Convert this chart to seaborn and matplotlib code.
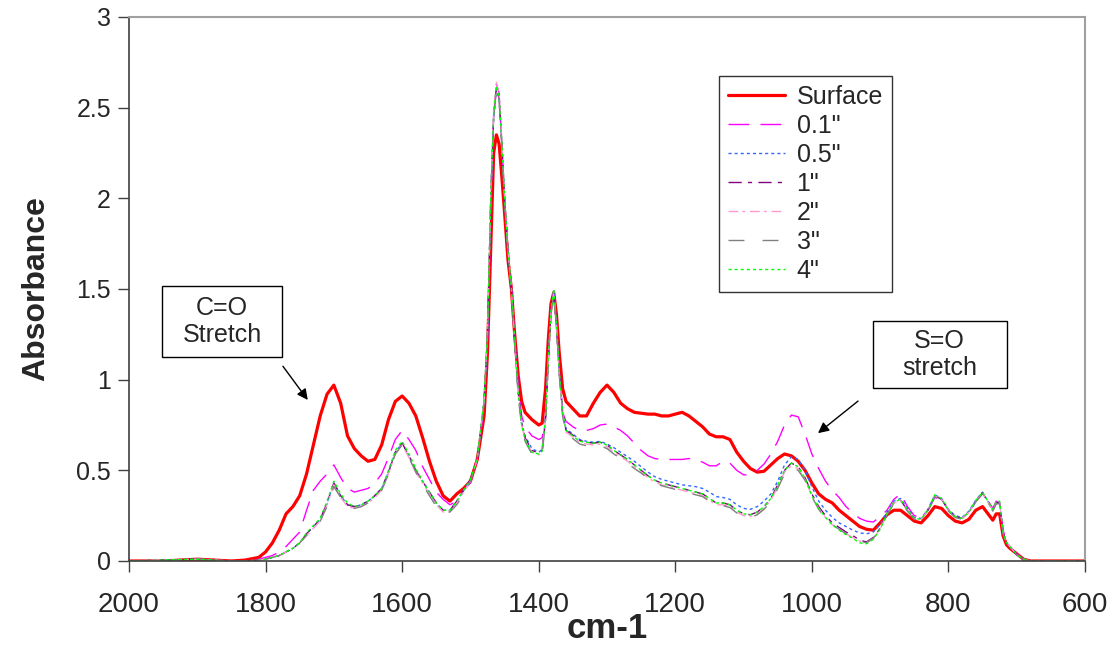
import matplotlib
matplotlib.use("Agg")
import matplotlib.pyplot as plt
import matplotlib.patches as mpatches
from matplotlib import font_manager
import seaborn as sns
import pandas as pd

# ---------------- data ----------------
wavenumber = [
    2000, 1950, 1900, 1850, 1830, 1810,
    1800, 1790, 1780, 1770, 1760, 1750, 1740, 1730, 1720, 1710,
    1700, 1690, 1680, 1670, 1660, 1650, 1640, 1630, 1620, 1610,
    1600, 1590, 1580, 1570, 1560, 1550, 1540, 1530, 1520, 1510,
    1500, 1490, 1480,
    1475, 1470, 1466, 1462, 1458, 1454, 1450, 1445, 1440, 1435, 1430, 1425, 1420,
    1410, 1400, 1395, 1390, 1386, 1382, 1378, 1374, 1370, 1365, 1360,
    1350, 1340, 1330, 1320, 1310, 1300, 1290, 1280, 1270, 1260,
    1250, 1240, 1230, 1220, 1210, 1200, 1190, 1180, 1170, 1160,
    1150, 1140, 1130, 1120, 1110, 1100, 1090, 1080, 1070, 1060,
    1050, 1040, 1030, 1020, 1010, 1000, 990, 980, 970, 960,
    950, 940, 930, 920, 910, 900, 890, 880, 870, 860,
    850, 840, 830, 820, 810, 800, 790, 780, 770, 760,
    750, 740,
    735, 730, 725, 720, 715, 710, 700, 690, 680, 650, 600,
]

surface = [
    0.0, 0.0, 0.01, 0.0, 0.005, 0.02,
    0.05, 0.10, 0.17, 0.26, 0.30, 0.36, 0.48, 0.64, 0.80, 0.92,
    0.97, 0.87, 0.69, 0.62, 0.58, 0.55, 0.56, 0.64, 0.78, 0.88,
    0.91, 0.87, 0.80, 0.68, 0.55, 0.44, 0.36, 0.33, 0.37, 0.40,
    0.44, 0.56, 0.80,
    1.15, 1.77, 2.25, 2.35, 2.30, 2.12, 1.92, 1.66, 1.50, 1.24, 1.02, 0.88, 0.82,
    0.78, 0.75, 0.76, 0.95, 1.22, 1.42, 1.48, 1.36, 1.15, 0.95, 0.88,
    0.84, 0.80, 0.80, 0.87, 0.93, 0.97, 0.93, 0.87, 0.84, 0.82,
    0.815, 0.81, 0.81, 0.80, 0.80, 0.81, 0.82, 0.80, 0.77, 0.74,
    0.70, 0.685, 0.685, 0.67, 0.60, 0.55, 0.51, 0.49, 0.495, 0.53,
    0.565, 0.59, 0.58, 0.55, 0.50, 0.43, 0.37, 0.34, 0.32, 0.28,
    0.25, 0.22, 0.19, 0.175, 0.17, 0.21, 0.255, 0.28, 0.28, 0.25,
    0.22, 0.21, 0.25, 0.30, 0.29, 0.25, 0.22, 0.21, 0.23, 0.28,
    0.30, 0.25,
    0.225, 0.26, 0.26, 0.14, 0.09, 0.07, 0.04, 0.01, 0.0, 0.0, 0.0,
]

depth_01 = [
    0.0, 0.0, 0.01, 0.0, 0.0, 0.01,
    0.02, 0.03, 0.05, 0.08, 0.12, 0.16, 0.28, 0.39, 0.44, 0.48,
    0.53, 0.46, 0.40, 0.38, 0.39, 0.40, 0.43, 0.48, 0.57, 0.67,
    0.72, 0.67, 0.61, 0.52, 0.45, 0.38, 0.34, 0.31, 0.33, 0.39,
    0.43, 0.56, 0.85,
    1.20, 1.95, 2.45, 2.63, 2.58, 2.30, 2.00, 1.72, 1.52, 1.22, 0.97, 0.80, 0.74,
    0.69, 0.67, 0.68, 0.80, 1.10, 1.38, 1.49, 1.33, 1.05, 0.82, 0.77,
    0.74, 0.72, 0.72, 0.73, 0.75, 0.755, 0.74, 0.72, 0.69, 0.65,
    0.61, 0.58, 0.565, 0.56, 0.56, 0.56, 0.56, 0.565, 0.56, 0.545,
    0.525, 0.525, 0.55, 0.54, 0.50, 0.475, 0.475, 0.50, 0.535, 0.59,
    0.66, 0.75, 0.805, 0.795, 0.70, 0.59, 0.51, 0.44, 0.39, 0.35,
    0.30, 0.265, 0.235, 0.22, 0.215, 0.245, 0.28, 0.34, 0.37, 0.30,
    0.25, 0.24, 0.28, 0.35, 0.34, 0.28, 0.245, 0.235, 0.27, 0.33,
    0.37, 0.32,
    0.29, 0.33, 0.32, 0.17, 0.10, 0.08, 0.04, 0.01, 0.0, 0.0, 0.0,
]

depth_05 = [
    0.0, 0.005, 0.01, 0.0, 0.0, 0.005,
    0.01, 0.02, 0.03, 0.05, 0.07, 0.10, 0.15, 0.19, 0.23, 0.32,
    0.43, 0.36, 0.31, 0.30, 0.31, 0.33, 0.36, 0.40, 0.49, 0.60,
    0.65, 0.58, 0.50, 0.44, 0.38, 0.32, 0.28, 0.28, 0.33, 0.39,
    0.45, 0.56, 0.88,
    1.25, 2.03, 2.45, 2.60, 2.55, 2.30, 2.00, 1.70, 1.50, 1.20, 0.93, 0.76, 0.69,
    0.62, 0.60, 0.615, 0.78, 1.11, 1.37, 1.49, 1.30, 1.05, 0.82, 0.73,
    0.70, 0.67, 0.66, 0.655, 0.66, 0.645, 0.625, 0.60, 0.575, 0.55,
    0.52, 0.49, 0.465, 0.45, 0.44, 0.43, 0.42, 0.415, 0.41, 0.40,
    0.38, 0.355, 0.35, 0.34, 0.31, 0.29, 0.285, 0.30, 0.33, 0.37,
    0.44, 0.53, 0.575, 0.56, 0.50, 0.41, 0.33, 0.28, 0.24, 0.21,
    0.19, 0.17, 0.155, 0.15, 0.16, 0.20, 0.27, 0.33, 0.345, 0.29,
    0.24, 0.235, 0.285, 0.365, 0.345, 0.285, 0.25, 0.24, 0.275, 0.335,
    0.38, 0.315,
    0.28, 0.32, 0.32, 0.16, 0.10, 0.08, 0.035, 0.01, 0.0, 0.0, 0.0,
]

depth_1 = [
    0.0, 0.005, 0.01, 0.0, 0.0, 0.005,
    0.01, 0.02, 0.03, 0.05, 0.07, 0.10, 0.15, 0.19, 0.23, 0.32,
    0.43, 0.36, 0.31, 0.30, 0.31, 0.33, 0.36, 0.40, 0.49, 0.60,
    0.65, 0.58, 0.50, 0.44, 0.38, 0.32, 0.28, 0.28, 0.33, 0.39,
    0.45, 0.56, 0.88,
    1.25, 2.03, 2.45, 2.61, 2.55, 2.30, 2.00, 1.70, 1.50, 1.20, 0.93, 0.76, 0.68,
    0.61, 0.595, 0.61, 0.78, 1.11, 1.37, 1.49, 1.30, 1.05, 0.82, 0.72,
    0.695, 0.665, 0.655, 0.65, 0.655, 0.64, 0.61, 0.585, 0.56, 0.53,
    0.50, 0.47, 0.445, 0.43, 0.42, 0.41, 0.40, 0.39, 0.38, 0.37,
    0.345, 0.32, 0.32, 0.31, 0.28, 0.26, 0.255, 0.27, 0.30, 0.345,
    0.42, 0.50, 0.54, 0.52, 0.46, 0.37, 0.30, 0.25, 0.21, 0.185,
    0.16, 0.14, 0.115, 0.105, 0.13, 0.18, 0.26, 0.32, 0.335, 0.28,
    0.235, 0.23, 0.28, 0.36, 0.34, 0.28, 0.245, 0.235, 0.27, 0.33,
    0.375, 0.31,
    0.28, 0.32, 0.32, 0.155, 0.10, 0.08, 0.035, 0.01, 0.0, 0.0, 0.0,
]

depth_2 = [
    0.0, 0.005, 0.01, 0.0, 0.0, 0.005,
    0.01, 0.02, 0.03, 0.05, 0.07, 0.10, 0.14, 0.18, 0.22, 0.31,
    0.42, 0.35, 0.30, 0.29, 0.30, 0.32, 0.35, 0.39, 0.48, 0.59,
    0.64, 0.57, 0.49, 0.43, 0.37, 0.31, 0.27, 0.275, 0.32, 0.38,
    0.44, 0.56, 0.88,
    1.26, 2.05, 2.48, 2.64, 2.57, 2.32, 2.01, 1.71, 1.50, 1.20, 0.92, 0.75, 0.67,
    0.60, 0.585, 0.60, 0.78, 1.11, 1.37, 1.49, 1.30, 1.04, 0.81, 0.71,
    0.685, 0.655, 0.645, 0.64, 0.645, 0.63, 0.60, 0.575, 0.55, 0.52,
    0.49, 0.46, 0.435, 0.42, 0.41, 0.40, 0.39, 0.38, 0.37, 0.36,
    0.335, 0.31, 0.31, 0.30, 0.27, 0.25, 0.245, 0.26, 0.29, 0.335,
    0.41, 0.49, 0.525, 0.51, 0.45, 0.36, 0.29, 0.24, 0.20, 0.175,
    0.15, 0.13, 0.11, 0.10, 0.125, 0.175, 0.26, 0.32, 0.335, 0.28,
    0.235, 0.23, 0.28, 0.36, 0.34, 0.28, 0.245, 0.235, 0.27, 0.33,
    0.375, 0.31,
    0.28, 0.32, 0.32, 0.155, 0.10, 0.08, 0.035, 0.01, 0.0, 0.0, 0.0,
]

depth_3 = [
    0.0, 0.005, 0.01, 0.0, 0.0, 0.005,
    0.01, 0.02, 0.03, 0.05, 0.07, 0.10, 0.14, 0.18, 0.22, 0.30,
    0.41, 0.35, 0.30, 0.29, 0.30, 0.32, 0.35, 0.39, 0.48, 0.59,
    0.64, 0.57, 0.49, 0.42, 0.36, 0.30, 0.265, 0.27, 0.31, 0.37,
    0.44, 0.55, 0.87,
    1.24, 2.02, 2.44, 2.60, 2.54, 2.29, 1.99, 1.69, 1.49, 1.19, 0.91, 0.74, 0.66,
    0.59, 0.575, 0.59, 0.77, 1.10, 1.36, 1.48, 1.29, 1.03, 0.80, 0.70,
    0.675, 0.645, 0.635, 0.63, 0.635, 0.62, 0.59, 0.565, 0.54, 0.51,
    0.485, 0.455, 0.43, 0.415, 0.405, 0.395, 0.385, 0.375, 0.365, 0.355,
    0.33, 0.305, 0.305, 0.295, 0.265, 0.245, 0.24, 0.255, 0.285, 0.33,
    0.40, 0.48, 0.515, 0.50, 0.445, 0.355, 0.285, 0.235, 0.20, 0.175,
    0.15, 0.13, 0.11, 0.10, 0.125, 0.175, 0.255, 0.315, 0.33, 0.275,
    0.23, 0.225, 0.275, 0.355, 0.335, 0.275, 0.24, 0.23, 0.265, 0.325,
    0.37, 0.305,
    0.275, 0.315, 0.315, 0.15, 0.10, 0.08, 0.035, 0.01, 0.0, 0.0, 0.0,
]

depth_4 = [
    0.0, 0.005, 0.01, 0.0, 0.0, 0.005,
    0.01, 0.02, 0.03, 0.05, 0.07, 0.10, 0.155, 0.195, 0.235, 0.33,
    0.44, 0.37, 0.32, 0.30, 0.31, 0.33, 0.36, 0.40, 0.50, 0.61,
    0.66, 0.59, 0.51, 0.44, 0.38, 0.32, 0.28, 0.28, 0.33, 0.39,
    0.45, 0.57, 0.89,
    1.26, 2.04, 2.46, 2.62, 2.56, 2.31, 2.01, 1.71, 1.51, 1.21, 0.93, 0.75, 0.67,
    0.60, 0.59, 0.605, 0.79, 1.12, 1.38, 1.50, 1.31, 1.05, 0.82, 0.72,
    0.69, 0.66, 0.655, 0.65, 0.655, 0.64, 0.61, 0.585, 0.56, 0.53,
    0.50, 0.47, 0.445, 0.43, 0.42, 0.41, 0.40, 0.39, 0.38, 0.37,
    0.345, 0.32, 0.32, 0.31, 0.28, 0.26, 0.255, 0.27, 0.30, 0.345,
    0.42, 0.50, 0.54, 0.52, 0.455, 0.36, 0.29, 0.24, 0.20, 0.17,
    0.145, 0.125, 0.10, 0.095, 0.12, 0.175, 0.26, 0.325, 0.34, 0.285,
    0.235, 0.23, 0.28, 0.365, 0.345, 0.28, 0.245, 0.235, 0.27, 0.335,
    0.38, 0.315,
    0.285, 0.33, 0.33, 0.16, 0.10, 0.08, 0.035, 0.01, 0.0, 0.0, 0.0,
]

series_names = ['Surface', '0.1"', '0.5"', '1"', '2"', '3"', '4"']
series_values = [surface, depth_01, depth_05, depth_1, depth_2, depth_3, depth_4]

x_ticks = [2000, 1800, 1600, 1400, 1200, 1000, 800, 600]
x_tick_labels = ['2000', '1800', '1600', '1400', '1200', '1000', '800', '600']
y_ticks = [0, 0.5, 1, 1.5, 2, 2.5, 3]
y_tick_labels = ['0', '0.5', '1', '1.5', '2', '2.5', '3']

# ---------------- styles ----------------
colors = ['#FF0000', '#FF00FF', '#3366FF', '#800080', '#FF99CC', '#808080', '#00FF00']
widths = [2.3, 1.0, 1.0, 1.0, 1.0, 1.0, 1.0]
styles = ['-', (0, (15, 8)), (0, (2.2, 2.2)), (0, (9.5, 4.5, 3, 4.5)),
          (0, (7, 3, 2, 3.5)), (0, (11.5, 13)), (0, (2.2, 2.2))]

sns.set_style('ticks')
names = {f.name for f in font_manager.fontManager.ttflist}
base_font = 'Liberation Sans' if 'Liberation Sans' in names else 'DejaVu Sans'
narrow_font = 'Liberation Sans Narrow' if 'Liberation Sans Narrow' in names else base_font
plt.rcParams['font.family'] = [base_font, 'DejaVu Sans']

frames = []
for name, vals in zip(series_names, series_values):
    frames.append(pd.DataFrame({'wn': wavenumber, 'A': vals, 'series': name}))
df = pd.concat(frames, ignore_index=True)

fig = plt.figure(figsize=(11.17, 6.55), dpi=100)
ax = fig.add_axes([129 / 1117, 1 - 561 / 655, 956 / 1117, 544 / 655])

for name, c, w, ls in zip(series_names, colors, widths, styles):
    sub = df[df['series'] == name]
    sns.lineplot(data=sub, x='wn', y='A', ax=ax, color=c, linewidth=w,
                 linestyle=ls, label=name, estimator=None, sort=False)

ax.set_xlim(2000, 600)
ax.set_ylim(0, 3)
ax.set_xticks(x_ticks)
ax.set_xticklabels(x_tick_labels, fontsize=20, family=[narrow_font, base_font])
ax.set_yticks(y_ticks)
ax.set_yticklabels(y_tick_labels, fontsize=18)
ax.tick_params(axis='both', direction='out', length=8, width=1, color='#404040')
ax.tick_params(axis='x', pad=14)
ax.tick_params(axis='y', pad=5)

for side in ['left', 'bottom']:
    ax.spines[side].set_color('#404040')
    ax.spines[side].set_linewidth(1.2)
for side in ['top', 'right']:
    ax.spines[side].set_visible(True)
    ax.spines[side].set_color('#A0A0A0')
    ax.spines[side].set_linewidth(1.5)

ax.set_xlabel('cm-1', fontsize=25, fontweight='bold', labelpad=-4,
              family=[narrow_font, base_font])
ax.set_ylabel('Absorbance', fontsize=23, fontweight='bold', labelpad=18,
              family=[narrow_font, base_font])

leg = ax.legend(loc='upper left', bbox_to_anchor=(719 / 1117, 1 - 76 / 655),
                bbox_transform=fig.transFigure, frameon=True, fancybox=False,
                edgecolor='black', fontsize=18, handlelength=2.3,
                handletextpad=0.45, labelspacing=0.2, borderpad=0.35,
                borderaxespad=0)
leg.get_frame().set_linewidth(1.0)

# annotation boxes (axes fraction coordinates)
for (x0, y0, x1, y1), txt in [((0.0345, 0.375, 0.160, 0.5055), 'C=O\nStretch'),
                              ((0.778, 0.318, 0.918, 0.441), 'S=O\nstretch')]:
    ax.add_patch(mpatches.Rectangle((x0, y0), x1 - x0, y1 - y0, transform=ax.transAxes,
                                    fill=True, facecolor='white', edgecolor='black',
                                    linewidth=1.0, zorder=5))
    ax.text((x0 + x1) / 2, (y0 + y1) / 2, txt, transform=ax.transAxes, ha='center',
            va='center', fontsize=18, linespacing=1.2, zorder=6)

for tail, head in [((0.161, 0.358), (0.187, 0.296)), ((0.7626, 0.294), (0.7207, 0.235))]:
    ax.annotate('', xy=head, xycoords='axes fraction', xytext=tail,
                textcoords='axes fraction',
                arrowprops=dict(arrowstyle='-|>', color='black', lw=1.0,
                                mutation_scale=16, shrinkA=0, shrinkB=0))

fig.savefig('out.png', dpi=100)
